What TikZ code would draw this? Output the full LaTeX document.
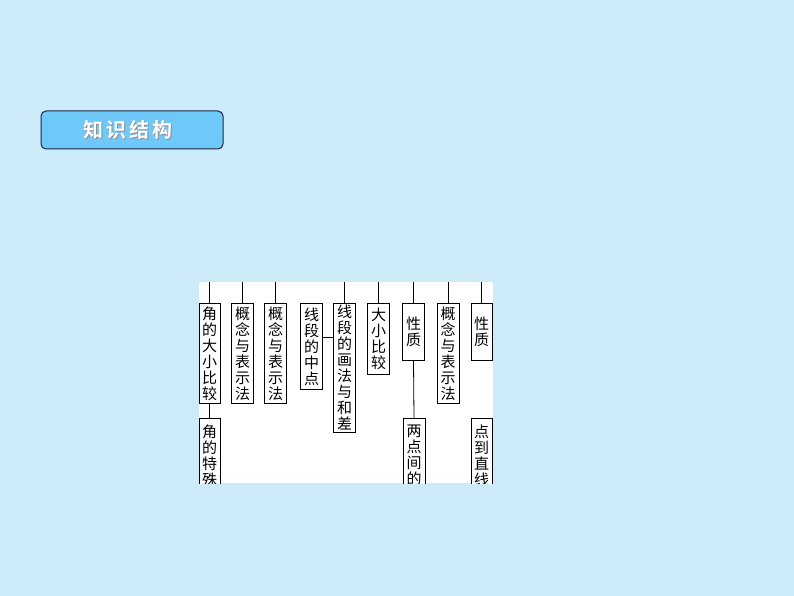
\documentclass[tikz,border=0pt]{standalone}
\usepackage{fontspec}
\newfontfamily\cjk{Noto Sans CJK SC}
\newfontfamily\cjkb{Noto Sans CJK SC Bold}
\definecolor{bgblue}{RGB}{204,234,247}
\definecolor{titlefill}{RGB}{110,201,250}
\definecolor{titleline}{RGB}{28,38,66}
\begin{document}
\begin{tikzpicture}[x=1pt,y=-1pt,
  box/.style={draw=black,line width=0.8pt,fill=white,inner sep=0pt,
    text width=16pt,align=center,font=\cjk\fontsize{15}{16}\selectfont},
  conn/.style={draw=black,line width=0.8pt}]
\useasboundingbox (0,0) rectangle (794,596);
\fill[bgblue] (0,0) rectangle (794,596);
% title
\node[draw=titleline,line width=1pt,fill=titlefill,rounded corners=5pt,
  minimum width=182pt,minimum height=38pt,inner sep=0pt] (title) at (132,130) {};
\node[text=black!45,font=\cjkb\fontsize{20}{20}\selectfont] at (129,131.2)
  {知\hspace{3pt}识\hspace{3pt}结\hspace{3pt}构};
\node[text=white,font=\cjkb\fontsize{20}{20}\selectfont] (titletext) at (128,130)
  {知\hspace{3pt}识\hspace{3pt}结\hspace{3pt}构};
% white picture area
\fill[white] (199,282) rectangle (493,483);
\begin{scope}
\clip (199,282) rectangle (493,483);
\node[box,minimum width=21pt,minimum height=100pt,anchor=north] (A1) at (209.5,303) {角\\的\\大\\小\\比\\较};
\node[box,minimum width=21pt,minimum height=74pt,anchor=north] (A2) at (209.5,418) {角\\的\\特\\殊};
\node[box,minimum width=22pt,minimum height=100pt,anchor=north] (B1) at (242.5,303) {概\\念\\与\\表\\示\\法};
\node[box,minimum width=22pt,minimum height=100pt,anchor=north] (B2) at (275.5,303) {概\\念\\与\\表\\示\\法};
\node[box,minimum width=22pt,minimum height=86pt,anchor=north] (C) at (311.5,303) {线\\段\\的\\中\\点};
\node[box,minimum width=22pt,minimum height=129pt,anchor=north] (D) at (344.5,303) {线\\段\\的\\画\\法\\与\\和\\差};
\node[box,minimum width=22pt,minimum height=71pt,anchor=north] (E) at (378.5,303) {大\\小\\比\\较};
\node[box,minimum width=22pt,minimum height=57pt,anchor=north] (F) at (413.5,303) {性\\质};
\node[box,minimum width=22pt,minimum height=74pt,anchor=north] (G) at (414,418) {两\\点\\间\\的};
\node[box,minimum width=22pt,minimum height=100pt,anchor=north] (H) at (448,303) {概\\念\\与\\表\\示\\法};
\node[box,minimum width=21pt,minimum height=57pt,anchor=north] (I) at (481.5,303) {性\\质};
\node[box,minimum width=21pt,minimum height=74pt,anchor=north] (J) at (481.5,418) {点\\到\\直\\线};
\coordinate (tA) at (209.5,282);
\coordinate (tB1) at (242.5,282);
\coordinate (tB2) at (275.5,282);
\coordinate (tD) at (344.5,282);
\coordinate (tE) at (378.5,282);
\coordinate (tF) at (413.5,282);
\coordinate (tH) at (448,282);
\coordinate (tI) at (481.5,282);
\draw[conn] (tA) -- (A1.north);
\draw[conn] (tB1) -- (B1.north);
\draw[conn] (tB2) -- (B2.north);
\draw[conn] (tD) -- (D.north);
\draw[conn] (tE) -- (E.north);
\draw[conn] (tF) -- (F.north);
\draw[conn] (tH) -- (H.north);
\draw[conn] (tI) -- (I.north);
\draw[conn] (A1.south) -- (A2.north);
\draw[conn] (F.south) -- (G.north);
\draw[conn] ([yshift=9pt]C.east) -- ([yshift=9pt]C.east -| D.west);
\end{scope}
\end{tikzpicture}
\end{document}
